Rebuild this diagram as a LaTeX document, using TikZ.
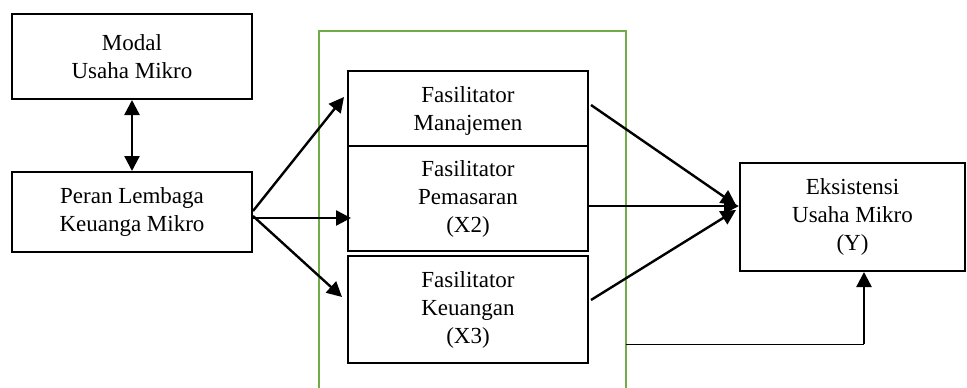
\documentclass[tikz,border=0pt]{standalone}
\usepackage{fontspec}
\setmainfont{Liberation Serif}
\usetikzlibrary{arrows.meta}
\definecolor{frgreen}{RGB}{112,173,71}
\begin{document}
\begin{tikzpicture}[x=1pt,y=-1pt,
  box/.style={draw=black, line width=2pt, align=center, inner sep=0pt,
    font=\fontsize{23}{28}\selectfont},
  arr/.style={line width=2.4pt, -{Triangle[length=15pt,width=15pt]}},
  darr/.style={line width=2.4pt, {Triangle[length=15pt,width=15pt]}-{Triangle[length=15pt,width=15pt]}}]
\useasboundingbox (0,0) rectangle (967,388);
% frame
\coordinate (gtl) at (319,31);
\coordinate (gtr) at (626,31);
\coordinate (gbl) at (319,388);
\coordinate (gbr) at (626,388);
\coordinate (gout) at (626,344);
\draw[frgreen, line width=2.6pt] (gbl) -- (gtl) -- (gtr) -- (gbr);
% boxes
\node[box, minimum width=240pt, minimum height=85pt] (modal) at (132,56.5) {Modal\\Usaha Mikro};
\node[box, minimum width=240pt, minimum height=80pt] (peran) at (132,212) {Peran Lembaga\\Keuanga Mikro};
\node[box, minimum width=240pt, minimum height=75pt, text depth=0pt] (man) at (468,108.5) {Fasilitator\\Manajemen};
\node[box, minimum width=240pt, minimum height=105pt] (pem) at (468,198.5) {Fasilitator\\Pemasaran\\(X2)};
\node[box, minimum width=240pt, minimum height=107pt] (keu) at (468,309.5) {Fasilitator\\Keuangan\\(X3)};
\node[box, minimum width=225pt, minimum height=108pt] (eks) at (852.5,217) {Eksistensi\\Usaha Mikro\\(Y)};
% arrows
\draw[darr] (modal.south) -- (peran.north);
\draw[arr] ([yshift=1pt]peran.east) -- ([xshift=-3pt,yshift=11.5pt]man.west);
\draw[arr] ([yshift=-6pt]peran.east) -- ([xshift=4pt,yshift=-19.5pt]pem.west);
\draw[arr] ([yshift=-4pt]peran.east) -- ([xshift=-5pt,yshift=12.5pt]keu.west);
\draw[arr] ([xshift=2pt,yshift=3.5pt]man.east) -- ([xshift=-3pt,yshift=12pt]eks.west);
\draw[arr] ([yshift=-7.5pt]pem.east) -- ([yshift=11pt]eks.west);
\draw[arr] ([xshift=2pt,yshift=9.5pt]keu.east) -- ([xshift=-3pt,yshift=7pt]eks.west);
\coordinate (corner) at (864,344);
\draw[line width=1pt] (gout) -- (corner);
\draw[arr] (corner) -- (eks.south -| corner);
\end{tikzpicture}
\end{document}
